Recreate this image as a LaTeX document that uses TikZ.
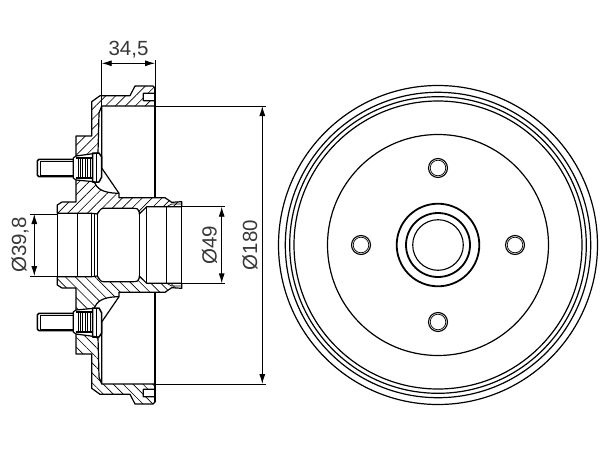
\documentclass[tikz,border=0pt]{standalone}
\usepackage{fontspec}
\setmainfont{Liberation Sans}
\usetikzlibrary{arrows.meta,patterns.meta}

\begin{document}
\begin{tikzpicture}[x=1pt,y=1pt]
\tikzstyle{outline}=[line width=1.2pt, line join=round]
\tikzstyle{thinline}=[line width=0.7pt]
\tikzstyle{dimline}=[line width=0.9pt, {Latex[length=10pt,width=6pt]}-{Latex[length=10pt,width=6pt]}]
\tikzstyle{extline}=[line width=0.9pt]
\tikzstyle{dimtext}=[font=\fontsize{20.5}{20}\selectfont, text=black!78, inner sep=0pt]
\useasboundingbox (0,0) rectangle (612,459);

% section view, axis at y=214
\begin{scope}[shift={(0,214)}]
\foreach \s/\a in {1/45,-1/-45}{
\begin{scope}[yscale=\s]
% drum wall
\draw[outline, pattern={Lines[angle=\a,distance=7pt,line width=0.65pt]}] (155,139) -- (101.7,139) -- (99,132) -- (98,92) -- (76,89) -- (76,109) -- (91.7,109) -- (91.7,143.3) -- (100,149.3) -- (130,149.3) -- (135,159) -- (153,159) -- (155,157) -- (155,151.7) -- (143.3,151.7) -- (143.3,144.3) -- (155,144.3) -- cycle;
% hub
\draw[outline, pattern={Lines[angle=\a,distance=7pt,line width=0.65pt]}] (76,65) -- (94,63.3) .. controls (97,57) and (101,52) .. (119,51.7) -- (119,47.3) -- (165,47.3) -- (171.7,42.7) -- (181.7,43.3) -- (181.7,38.3) -- (146.7,38.3) -- (139.3,31) -- (139.3,33) .. controls (139,36) and (137,36.7) .. (133,36.7) -- (103.3,36.7) .. controls (100,36.7) and (99,33) .. (97.3,31) -- (91.7,31.7) -- (57.3,31.7) -- (57.3,40) -- (62,43) -- (76,43) -- cycle;
% rib and inner wall
\draw[outline] (101.7,139) -- (101.7,77) -- (119,51.7);
\draw[outline] (155,157) -- (155,47.3);
\draw[thinline] (166.7,38.3) -- (171.7,41) -- (181.7,41);
% stud
\draw[line width=1.5pt, line join=round] (73.3,85.7) -- (39,85.7) -- (37.3,84) -- (37.3,70) -- (39,68.3) -- (73.3,68.3);
\draw[thinline] (40,84) -- (73.3,84) (40,70) -- (73.3,70) (40,84) -- (40,70);
\draw[outline] (73.3,87) -- (73.3,67) -- (76,65) (73.3,87) -- (76,89);
\draw[line width=1.5pt, line join=round] (92.7,92) -- (99,92) -- (101.7,88) -- (101.7,68) -- (99,63) -- (92.7,63) -- cycle;
\draw[thinline] (96.5,92) -- (96.5,63);
\foreach \kx in {78,80.4,82.8,85.2,87.6,90}{
\draw[thinline] (\kx,87.5) -- (\kx,66.5);
}
\draw[outline] (92.7,87) -- (76,87) (92.7,67) -- (76,67);
% long lines
\draw[extline] (155,139) -- (266,139);
\end{scope}
}
% bore lines
\foreach \bx in {57.3,77.3,91.7,97.3,139.3}{
\draw[outline] (\bx,31.5) -- (\bx,-31.5);
}
\draw[thinline] (94.5,31.5) -- (94.5,-31.5);
\foreach \bx in {146.7,166.7,181.7}{
\draw[outline] (\bx,38.3) -- (\bx,-38.3);
}
% dimensions
\coordinate (wl) at (101.7,185);
\coordinate (wr) at (155,185);
\draw[extline] (wl) -- (101.7,139) (wr) -- (155,157);
\draw[dimline] (101.7,181.7) -- (155,181.7);
\node[dimtext] (wtext) at (128.5,195.5) {34,5};
\draw[extline] (30,31) -- (57.3,31) (30,-31) -- (57.3,-31);
\draw[dimline] (34.3,31) -- (34.3,-31);
\node[dimtext, rotate=90] (dtexta) at (20,0) {Ø39,8};
\draw[extline] (181.7,38.3) -- (225,38.3) (181.7,-38.3) -- (225,-38.3);
\draw[dimline] (221.7,38.3) -- (221.7,-38.3);
\node[dimtext, rotate=90] (dtextb) at (209.5,0) {Ø49};
\draw[dimline] (262.3,139) -- (262.3,-139);
\node[dimtext, rotate=90] (dtextc) at (250,0) {Ø180};
\end{scope}

% front view
\begin{scope}[shift={(438,214)}]
\foreach \r in {159.5,152.7,148.3,144}{
\draw[outline] (0,0) circle (\r);
}
\draw[outline] (0,0) circle (110.5);
\draw[line width=1.8pt] (0,0) circle (41.3);
\draw[line width=1.8pt] (0,0) circle (32);
\draw[line width=1.1pt] (0,0) circle (25.3);
\foreach \t in {0,90,180,270}{
\draw[line width=1.1pt] (\t:77) circle (9.5);
\draw[thinline] (\t:77) circle (7.8);
}
\end{scope}
\end{tikzpicture}
\end{document}
